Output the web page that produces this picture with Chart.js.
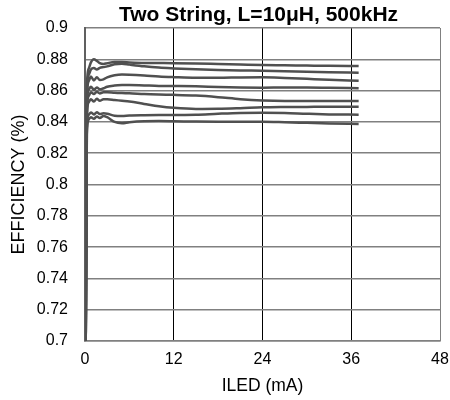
<!DOCTYPE html>
<html>
<head>
<meta charset="utf-8">
<script src="https://cdn.jsdelivr.net/npm/chart.js@4/dist/chart.umd.min.js"></script>
<style>
  body { margin: 0; background: #fff; }
  #wrap { width: 450px; height: 400px; }
</style>
</head>
<body>
<div id="wrap"><canvas id="effChart"></canvas></div>
<script>
// LED current (mA) sample points
const iled = [0.1, 0.25, 0.5, 0.8, 1.2, 1.6, 2.0, 2.5, 3, 4, 5, 6, 8, 10, 12, 15, 18, 21, 24, 27, 30, 33, 37];

// efficiency curves, one per input voltage
const eff1 = [0.700, 0.862, 0.874, 0.878, 0.8800, 0.8790, 0.8775, 0.8770, 0.8775, 0.8782, 0.8782, 0.8780, 0.8777, 0.8776, 0.8775, 0.8773, 0.8770, 0.8767, 0.8764, 0.8762, 0.8760, 0.8758, 0.8757];
const eff2 = [0.700, 0.858, 0.870, 0.8735, 0.8745, 0.8735, 0.8745, 0.8750, 0.8755, 0.8768, 0.8772, 0.8766, 0.8755, 0.8747, 0.8742, 0.8736, 0.8732, 0.8729, 0.8727, 0.8724, 0.8720, 0.8717, 0.8714];
const eff3 = [0.700, 0.854, 0.866, 0.8690, 0.8665, 0.8685, 0.8668, 0.8672, 0.8685, 0.8698, 0.8703, 0.8702, 0.8697, 0.8690, 0.8686, 0.8682, 0.8682, 0.8684, 0.8685, 0.8681, 0.8675, 0.8669, 0.8663];
const eff4 = [0.700, 0.850, 0.8605, 0.8625, 0.8605, 0.8620, 0.8608, 0.8615, 0.8625, 0.8632, 0.8635, 0.8636, 0.8633, 0.8630, 0.8629, 0.8627, 0.8623, 0.8620, 0.8619, 0.8620, 0.8620, 0.8618, 0.8615];
const eff5 = [0.700, 0.846, 0.8565, 0.8590, 0.8578, 0.8592, 0.8582, 0.8590, 0.8590, 0.8586, 0.8584, 0.8583, 0.8578, 0.8575, 0.8573, 0.8568, 0.8558, 0.8545, 0.8537, 0.8534, 0.8534, 0.8534, 0.8534];
const eff6 = [0.700, 0.842, 0.8525, 0.8545, 0.8530, 0.8548, 0.8535, 0.8545, 0.8545, 0.8540, 0.8535, 0.8530, 0.8515, 0.8500, 0.8490, 0.8483, 0.8484, 0.8488, 0.8493, 0.8495, 0.8496, 0.8497, 0.8497];
const eff7 = [0.700, 0.836, 0.8445, 0.8460, 0.8448, 0.8462, 0.8450, 0.8455, 0.8452, 0.8440, 0.8438, 0.8441, 0.8443, 0.8444, 0.8444, 0.8446, 0.8452, 0.8457, 0.8459, 0.8457, 0.8452, 0.8448, 0.8446];
const eff8 = [0.700, 0.832, 0.8415, 0.8430, 0.8420, 0.8435, 0.8425, 0.8438, 0.8430, 0.8400, 0.8392, 0.8398, 0.8404, 0.8405, 0.8404, 0.8402, 0.8401, 0.8401, 0.8401, 0.8398, 0.8394, 0.8390, 0.8387];

const xTicks = [0, 12, 24, 36, 48];
const yTicks = [0.7, 0.72, 0.74, 0.76, 0.78, 0.8, 0.82, 0.84, 0.86, 0.88, 0.9];
const chartTitle = 'Two String, L=10\u03BCH, 500kHz';

const FONT = '"Liberation Sans", Arial, sans-serif';

function series(ys) {
  return {
    data: ys.map((y, i) => ({ x: iled[i], y: y })),
    borderColor: '#505050',
    borderWidth: 2.5,
    pointRadius: 0,
    fill: false,
    cubicInterpolationMode: 'monotone'
  };
}

// title centred over the plot area rather than the canvas
const plotTitle = {
  id: 'plotTitle',
  afterDraw(chart) {
    const { ctx, chartArea } = chart;
    ctx.save();
    ctx.font = 'bold 21px ' + FONT;
    ctx.fillStyle = '#000';
    ctx.textAlign = 'center';
    ctx.textBaseline = 'middle';
    ctx.fillText(chartTitle, (chartArea.left + chartArea.right) / 2 - 4, 15);
    ctx.restore();
  }
};

const ctx = document.getElementById('effChart').getContext('2d');
const effChart = new Chart(ctx, {
  type: 'line',
  data: {
    datasets: [eff1, eff2, eff3, eff4, eff5, eff6, eff7, eff8].map(series)
  },
  options: {
    responsive: true,
    maintainAspectRatio: false,
    animation: false,
    layout: { padding: { top: 28, right: 0, left: 0, bottom: 0 } },
    plugins: {
      legend: { display: false },
      tooltip: { enabled: false }
    },
    scales: {
      x: {
        type: 'linear',
        min: 0,
        max: 48,
        afterBuildTicks: s => { s.ticks = xTicks.map(v => ({ value: v })); },
        afterFit: s => { s.height = 59; s.paddingRight = 10; },
        ticks: {
          color: '#000',
          padding: 9,
          font: { family: FONT, size: 16 }
        },
        grid: {
          drawTicks: false,
          color: c => (c.tick && (c.tick.value === 0 || c.tick.value === 48)) ? '#808080' : '#000',
          lineWidth: 1
        },
        border: { color: '#808080', width: 1.5 },
        title: {
          display: true,
          text: 'ILED (mA)',
          color: '#000',
          font: { family: FONT, size: 17.5 },
          padding: { top: 0, bottom: 3 }
        }
      },
      y: {
        min: 0.7,
        max: 0.9,
        afterBuildTicks: s => { s.ticks = yTicks.map(v => ({ value: v })); },
        afterFit: s => { s.width = 85; },
        ticks: {
          color: '#000',
          padding: 17,
          font: { family: FONT, size: 16 },
          callback: v => String(Number(v.toFixed(2)))
        },
        grid: {
          drawTicks: false,
          color: '#808080',
          lineWidth: 1.5
        },
        border: { color: '#606060', width: 2 },
        title: {
          display: true,
          text: 'EFFICIENCY (%)',
          color: '#000',
          font: { family: FONT, size: 18 },
          padding: { top: 8, bottom: 0 }
        }
      }
    }
  },
  plugins: [plotTitle]
});
</script>
</body>
</html>
